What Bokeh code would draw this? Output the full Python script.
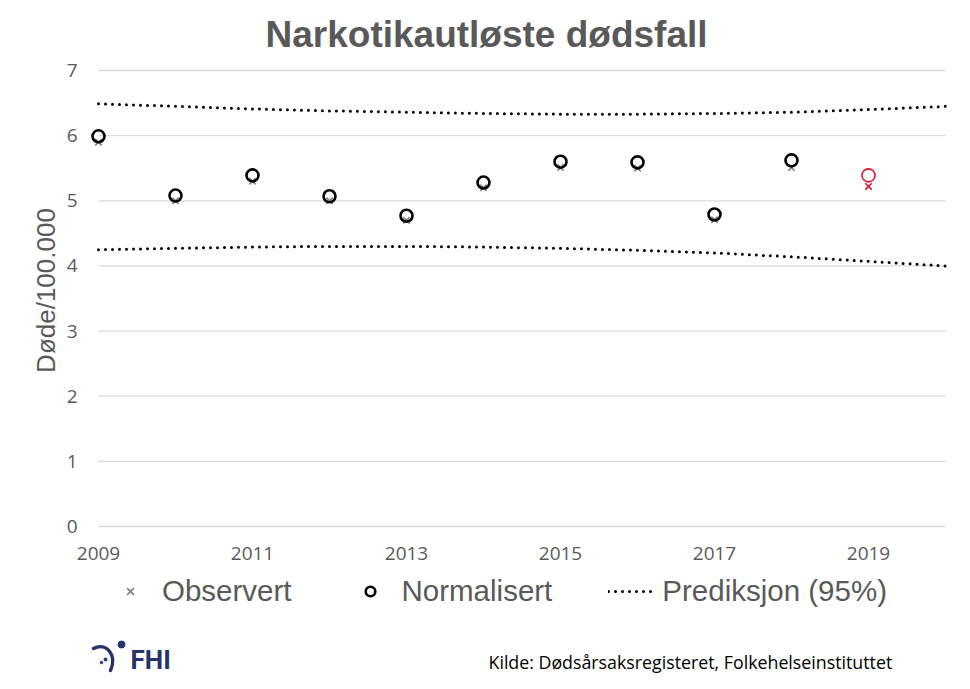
from math import pi
from bokeh.plotting import figure
from bokeh.models import Range1d, Label, Legend, LegendItem, ColumnDataSource
from bokeh.core.properties import value
from bokeh.embed import file_html
from bokeh.resources import INLINE

years = [2009, 2010, 2011, 2012, 2013, 2014, 2015, 2016, 2017, 2018, 2019]
observed = [5.90, 5.00, 5.30, 5.00, 4.70, 5.20, 5.51, 5.50, 4.71, 5.51, 5.22]
normalized = [5.99, 5.08, 5.39, 5.07, 4.77, 5.28, 5.60, 5.59, 4.79, 5.62, 5.39]
preliminary_year = 2019

pred_years = [2009, 2010, 2011, 2012, 2013, 2014, 2015, 2016, 2017, 2018, 2019, 2020]
pred_upper = [6.49, 6.45, 6.41, 6.38, 6.36, 6.34, 6.33, 6.33, 6.34, 6.36, 6.40, 6.45]
pred_lower = [4.25, 4.27, 4.29, 4.30, 4.30, 4.29, 4.27, 4.24, 4.20, 4.14, 4.07, 4.00]

y_ticks = [0, 1, 2, 3, 4, 5, 6, 7]
y_tick_labels = ["0", "1", "2", "3", "4", "5", "6", "7"]
x_ticks = [2009, 2011, 2013, 2015, 2017, 2019]
x_tick_labels = ["2009", "2011", "2013", "2015", "2017", "2019"]
x_axis_start, x_axis_end = 2009, 2020
y_axis_start, y_axis_end = 0, 7

title_text = "Narkotikautløste dødsfall"
y_label = "Døde/100.000"
legend_labels = ["Observert", "Normalisert", "Prediksjon (95%)"]
source_text = "Kilde: Dødsårsaksregisteret, Folkehelseinstituttet"
logo_text = "FHI"

GRAY = "#595959"
RED = "#e0122e"
NAVY = "#26336a"

# ---- pixel geometry (layout) ----
W, H = 954, 673
FRAME_L, FRAME_T = 0, 58           # frame edges on the canvas
AX_L, AX_R = 98, 945               # where x_axis_start / x_axis_end sit
AX_T, AX_B = 70, 526               # where y_axis_end / y_axis_start sit
ppx = (AX_R - AX_L) / (x_axis_end - x_axis_start)
ppy = (AX_B - AX_T) / (y_axis_end - y_axis_start)
x_lo = x_axis_start - (AX_L - FRAME_L) / ppx
x_hi = x_axis_end + (W - AX_R) / ppx
y_lo = y_axis_start - (H - AX_B) / ppy
y_hi = y_axis_end + (AX_T - FRAME_T) / ppy

def px2x(px):
    return x_lo + (px - FRAME_L) / ppx

def px2y(py):
    return y_lo + (H - py) / ppy

final = [i for i, y in enumerate(years) if y != preliminary_year]
prelim = [i for i, y in enumerate(years) if y == preliminary_year]
src_final = ColumnDataSource(dict(x=[years[i] for i in final],
                                  obs=[observed[i] for i in final],
                                  norm=[normalized[i] for i in final]))
src_prelim = ColumnDataSource(dict(x=[years[i] for i in prelim],
                                   obs=[observed[i] for i in prelim],
                                   norm=[normalized[i] for i in prelim]))
src_pred = ColumnDataSource(dict(x=pred_years, up=pred_upper, lo=pred_lower))

p = figure(width=W, height=H, output_backend="svg", toolbar_location=None,
           x_range=Range1d(x_lo, x_hi), y_range=Range1d(y_lo, y_hi),
           x_axis_location=None, y_axis_location=None,
           min_border_left=FRAME_L, min_border_right=0, min_border_top=FRAME_T,
           min_border_bottom=0)
p.outline_line_color = None
p.grid.visible = False

p.title.text = title_text
p.title.align = "left"
p.title.offset = 265 - FRAME_L
p.title.standoff = 7
p.title.text_font = "Liberation Sans"
p.title.text_font_size = "37px"
p.title.text_font_style = "bold"
p.title.text_color = GRAY

tick_font = dict(text_font=value("Open Sans"), text_font_size="19px", text_color=GRAY)

# grid lines from the y ticks
p.segment(x0=[x_axis_start] * len(y_ticks), x1=[x_axis_end] * len(y_ticks),
          y0=y_ticks, y1=y_ticks, line_color="#d9d9d9", line_width=1.3)

# y tick labels
p.text(x=[x_axis_start] * len(y_ticks), y=y_ticks, text=y_tick_labels,
       x_offset=-21, text_align="right", text_baseline="middle", **tick_font)
# x tick labels
p.text(x=x_ticks, y=[y_axis_start] * len(x_ticks), text=x_tick_labels,
       y_offset=27, text_align="center", text_baseline="middle", **tick_font)

# y axis label
p.add_layout(Label(x=45 - FRAME_L, y=H - 290, x_units="screen", y_units="screen",
                   text=y_label, angle=pi / 2, text_align="center",
                   text_baseline="middle", text_font="Liberation Sans",
                   text_font_size="26px", text_color=GRAY))

dash = dict(line_color="black", line_width=3, line_dash="0 7", line_cap="round")
r_up = p.line("x", "up", source=src_pred, **dash)
p.line("x", "lo", source=src_pred, **dash)

r_obs = p.scatter("x", "obs", source=src_final, marker="x", size=9,
                  line_color="#7f7f7f", line_width=1.6)
p.scatter("x", "obs", source=src_prelim, marker="x", size=9,
          line_color=RED, line_width=1.6)
r_norm = p.scatter("x", "norm", source=src_final, marker="circle", size=12,
                   line_color="black", line_width=2.6, fill_color=None)
p.scatter("x", "norm", source=src_prelim, marker="circle", size=13,
          line_color=RED, line_width=1.6, fill_color=None)

legend = Legend(items=[LegendItem(label=legend_labels[0], renderers=[r_obs]),
                       LegendItem(label=legend_labels[1], renderers=[r_norm]),
                       LegendItem(label=legend_labels[2], renderers=[r_up])],
                location=(108 - FRAME_L, H - 608), orientation="horizontal",
                glyph_width=44, glyph_height=24, label_standoff=10, spacing=56,
                padding=0, margin=0, border_line_color=None,
                background_fill_alpha=0,
                label_text_font="Liberation Sans", label_text_font_size="29.5px",
                label_text_color=GRAY)
p.add_layout(legend)

# footer: source and logo
p.add_layout(Label(x=488 - FRAME_L, y=H - 661, x_units="screen", y_units="screen",
                   text=source_text, text_align="left", text_baseline="middle",
                   text_font="Open Sans", text_font_size="17.8px", text_color="black"))
p.add_layout(Label(x=130 - FRAME_L, y=H - 659, x_units="screen", y_units="screen",
                   text=logo_text, text_align="left", text_baseline="middle",
                   text_font="Roboto", text_font_size="26px", text_font_style="bold",
                   text_color=NAVY))
# logo swoosh (decoration)
p.bezier(x0=[px2x(93)], y0=[px2y(648)], x1=[px2x(110)], y1=[px2y(670)],
         cx0=[px2x(106)], cy0=[px2y(641)], cx1=[px2x(117)], cy1=[px2y(655)],
         line_color=NAVY, line_width=3.5, line_cap="round")
p.scatter(x=[px2x(121), px2x(105), px2x(101)], y=[px2y(644), px2y(659), px2y(662)],
          size=[7, 3, 2.5], color=NAVY)

open("out.html", "w").write(file_html(p, INLINE))
